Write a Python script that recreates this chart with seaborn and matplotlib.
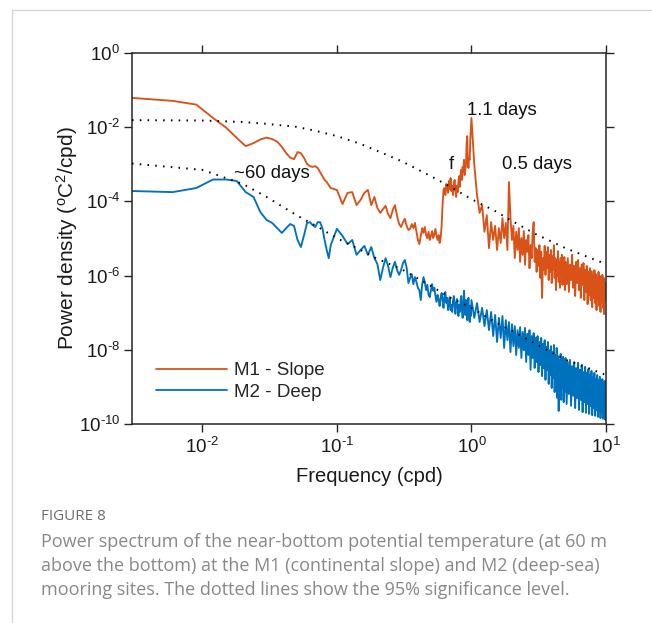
import numpy as np
import pandas as pd
import matplotlib
matplotlib.use("Agg")
import matplotlib.pyplot as plt
from matplotlib.lines import Line2D
from matplotlib.ticker import FixedLocator, FixedFormatter, NullLocator
import seaborn as sns

# ---------------- data (frequency in cpd, power as log10 of degC^2/cpd) ----------------
freq_low = [0.003, 0.006, 0.009, 0.012, 0.015, 0.018, 0.021, 0.024, 0.027, 0.030,
            0.033, 0.036, 0.039, 0.042, 0.045, 0.048, 0.051, 0.054, 0.057, 0.060,
            0.063, 0.066, 0.069, 0.072, 0.075, 0.078, 0.081, 0.084, 0.087, 0.090]
freq_mid = [0.10, 0.11, 0.12, 0.13, 0.14, 0.15, 0.16, 0.17, 0.18, 0.19,
            0.20, 0.21, 0.22, 0.23, 0.24, 0.25, 0.26, 0.27, 0.28, 0.29,
            0.30, 0.31, 0.32, 0.33, 0.34, 0.35, 0.36, 0.37, 0.38, 0.39,
            0.40, 0.41, 0.42, 0.43, 0.44, 0.45, 0.46, 0.47, 0.48, 0.49,
            0.50, 0.51, 0.52, 0.53, 0.54, 0.55, 0.56, 0.57, 0.58, 0.59,
            0.60, 0.61, 0.62, 0.63, 0.64, 0.65, 0.66, 0.67, 0.68, 0.69,
            0.70, 0.71, 0.72, 0.73, 0.74, 0.75, 0.76, 0.77, 0.78, 0.79,
            0.80, 0.81, 0.82, 0.83, 0.84, 0.85, 0.86, 0.87, 0.88, 0.89,
            0.90, 0.91, 0.92, 0.93, 0.94, 0.95, 0.96, 0.97, 0.98, 0.99]
freq_high = [1.00, 1.05, 1.10, 1.15, 1.20, 1.25, 1.30, 1.35, 1.40, 1.45,
             1.50, 1.55, 1.60, 1.65, 1.70, 1.75, 1.80, 1.85, 1.90, 1.95,
             2.00, 2.05, 2.10, 2.15, 2.20, 2.25, 2.30, 2.35, 2.40, 2.45,
             2.50, 2.55, 2.60, 2.65, 2.70, 2.75, 2.80, 2.85, 2.90, 2.95,
             3.00, 3.05, 3.10, 3.15, 3.20, 3.25, 3.30, 3.35, 3.40, 3.45,
             3.50, 3.55, 3.60, 3.65, 3.70, 3.75, 3.80, 3.85, 3.90, 3.95,
             4.00, 4.05, 4.10, 4.15, 4.20, 4.25, 4.30, 4.35, 4.40, 4.45,
             4.50, 4.55, 4.60, 4.65, 4.70, 4.75, 4.80, 4.85, 4.90, 4.95]
freq_top = [5.0, 5.1, 5.2, 5.3, 5.4, 5.5, 5.6, 5.7, 5.8, 5.9,
            6.0, 6.1, 6.2, 6.3, 6.4, 6.5, 6.6, 6.7, 6.8, 6.9,
            7.0, 7.1, 7.2, 7.3, 7.4, 7.5, 7.6, 7.7, 7.8, 7.9,
            8.0, 8.1, 8.2, 8.3, 8.4, 8.5, 8.6, 8.7, 8.8, 8.9,
            9.0, 9.1, 9.2, 9.3, 9.4, 9.5, 9.6, 9.7, 9.8, 9.9, 10.0]

# M1 - Slope (log10 power)
m1_low = [-1.21, -1.29, -1.39, -1.75, -2.01, -2.29, -2.51, -2.43, -2.33, -2.28,
          -2.32, -2.39, -2.53, -2.70, -2.82, -2.86, -2.67, -2.70, -2.83, -2.99,
          -3.05, -3.07, -3.05, -3.10, -3.21, -3.32, -3.42, -3.48, -3.56, -3.64]
m1_mid = [-3.69, -4.07, -3.77, -3.75, -4.10, -3.96, -3.77, -3.69, -4.10, -3.88,
          -4.18, -4.31, -4.21, -4.12, -4.34, -4.45, -4.23, -4.10, -4.39, -4.61,
          -4.69, -4.56, -4.47, -4.66, -4.77, -4.74, -4.61, -4.72, -4.58, -4.82,
          -5.04, -5.15, -4.93, -4.72, -4.85, -4.69, -4.91, -4.99, -4.82, -5.04,
          -4.93, -4.80, -4.99, -4.88, -4.74, -4.93, -5.04, -4.91, -5.12, -4.99,
          -4.66, -4.10, -3.69, -3.64, -3.83, -3.53, -3.61, -3.77, -3.45, -3.67,
          -3.37, -3.72, -3.58, -3.83, -3.50, -3.42, -3.69, -3.88, -3.58, -3.75,
          -3.45, -3.32, -3.61, -3.29, -3.15, -3.42, -3.07, -3.21, -2.88, -3.29,
          -3.13, -3.05, -2.48, -2.24, -2.94, -3.10, -2.83, -2.88, -2.34, -2.02]
m1_high = [-1.75, -3.02, -3.83, -4.31, -4.10, -4.82, -4.37, -5.26, -4.56, -5.04,
           -4.66, -5.31, -4.72, -5.12, -4.45, -4.99, -4.58, -5.31, -3.48, -4.45,
           -5.04, -4.66, -5.53, -4.82, -5.31, -4.72, -5.63, -4.99, -5.44, -4.80,
           -5.71, -5.04, -5.36, -4.91, -5.80, -5.18, -5.53, -4.85, -4.56, -5.63,
           -5.26, -5.90, -5.31, -5.74, -5.18, -6.06, -5.36, -6.60, -5.53, -5.85,
           -5.20, -5.98, -5.36, -5.80, -5.23, -6.12, -5.44, -5.90, -5.31, -6.20,
           -5.47, -5.85, -5.18, -6.06, -5.53, -6.39, -5.58, -6.01, -5.34, -6.17,
           -5.63, -6.33, -5.53, -5.96, -5.44, -6.25, -5.66, -6.06, -5.50, -6.39]
m1_top = [-5.63, -6.23, -5.53, -6.44, -5.71, -6.12, -5.44, -6.33, -5.74, -6.55,
          -5.63, -6.20, -5.58, -6.39, -5.80, -6.60, -5.71, -6.25, -5.66, -6.66,
          -5.85, -6.44, -5.74, -6.77, -5.90, -6.52, -5.80, -6.66, -5.88, -6.85,
          -5.98, -6.60, -5.85, -6.74, -5.96, -6.93, -6.06, -6.66, -5.90, -6.82,
          -6.01, -6.98, -6.12, -6.71, -5.98, -6.87, -6.06, -7.04, -6.17, -6.66, -6.25]

# M2 - Deep (log10 power)
m2_low = [-3.72, -3.75, -3.64, -3.41, -3.41, -3.45, -3.75, -3.88, -4.29, -4.50,
          -4.58, -4.72, -4.85, -4.72, -4.61, -4.66, -5.04, -5.23, -4.91, -4.58,
          -4.56, -4.64, -4.69, -4.56, -4.56, -4.72, -5.04, -5.31, -5.53, -5.18]
m2_mid = [-4.74, -4.93, -5.15, -5.04, -5.44, -5.31, -5.20, -5.44, -5.23, -5.53,
          -5.69, -6.12, -5.79, -5.53, -5.74, -6.04, -5.79, -5.63, -5.85, -5.98,
          -5.85, -5.66, -5.58, -5.79, -6.20, -6.06, -5.96, -6.23, -6.04, -6.17,
          -6.33, -6.39, -6.66, -6.25, -6.04, -6.17, -6.39, -6.25, -6.52, -6.58,
          -6.39, -6.23, -6.41, -6.33, -6.55, -6.71, -6.52, -6.66, -6.82, -6.60,
          -6.47, -6.66, -6.87, -6.55, -6.44, -6.74, -6.60, -6.93, -6.71, -6.58,
          -6.93, -6.79, -6.98, -6.66, -6.55, -6.82, -7.03, -6.74, -6.63, -6.87,
          -7.09, -6.79, -6.98, -6.66, -6.55, -6.93, -7.14, -6.74, -6.41, -6.82,
          -7.06, -6.66, -6.93, -7.20, -6.77, -6.60, -6.98, -7.25, -6.82, -7.09]
m2_high = [-6.66, -7.14, -6.74, -7.25, -6.87, -7.36, -6.93, -7.47, -6.98, -7.63,
           -7.06, -7.79, -7.14, -7.68, -7.09, -7.95, -7.20, -7.74, -7.25, -8.06,
           -7.31, -7.90, -7.36, -8.14, -7.47, -7.95, -7.39, -8.22, -7.52, -8.01,
           -7.41, -8.33, -7.57, -8.14, -7.47, -8.54, -7.63, -8.22, -7.55, -8.49,
           -7.68, -8.33, -7.63, -8.60, -7.79, -8.41, -7.68, -8.71, -7.84, -8.49,
           -7.74, -8.81, -7.92, -8.54, -7.79, -8.92, -8.01, -8.68, -7.90, -9.03,
           -8.06, -8.76, -7.87, -9.14, -8.14, -8.87, -7.95, -9.30, -8.17, -9.65,
           -8.27, -9.08, -8.11, -9.35, -8.33, -9.03, -8.19, -9.41, -8.38, -9.14]
m2_top = [-8.22, -9.46, -8.33, -9.19, -8.27, -9.51, -8.44, -9.24, -8.33, -9.57,
          -8.49, -9.30, -8.35, -9.62, -8.54, -9.35, -8.41, -9.68, -8.60, -9.41,
          -8.46, -9.70, -8.62, -9.46, -8.52, -9.73, -8.68, -9.51, -8.57, -9.76,
          -8.73, -9.57, -8.62, -9.78, -8.79, -9.62, -8.68, -9.81, -8.81, -9.65,
          -8.73, -9.84, -8.87, -9.68, -8.79, -9.86, -8.89, -9.70, -8.84, -9.89, -8.95]

# 95% significance levels (log10 power)
sig_freq = [0.003, 0.01, 0.02, 0.03, 0.05, 0.07, 0.1, 0.15, 0.2, 0.3,
            0.5, 0.7, 1.0, 1.5, 2.0, 3.0, 5.0, 7.0, 10.0]
sig_m1 = [-1.81, -1.82, -1.86, -1.91, -1.99, -2.10, -2.24, -2.45, -2.64, -2.91,
          -3.32, -3.61, -3.94, -4.26, -4.53, -4.88, -5.26, -5.47, -5.69]
sig_m2 = [-2.98, -3.15, -3.53, -3.88, -4.37, -4.66, -4.99, -5.31, -5.55, -5.82,
          -6.28, -6.60, -6.87, -7.25, -7.49, -7.84, -8.27, -8.46, -8.68]

series_names = ["M1 - Slope", "M2 - Deep"]
x_ticks = [0.01, 0.1, 1, 10]
x_labels = [r"$10^{\text{-2}}$", r"$10^{\text{-1}}$", r"$10^{0}$", r"$10^{1}$"]
y_ticks = [1e-10, 1e-8, 1e-6, 1e-4, 1e-2, 1]
y_labels = [r"$10^{\text{-10}}$", r"$10^{\text{-8}}$", r"$10^{\text{-6}}$",
            r"$10^{\text{-4}}$", r"$10^{\text{-2}}$", r"$10^{0}$"]
caption_title = "FIGURE 8"
caption_lines = [
    "Power spectrum of the near-bottom potential temperature (at 60 m",
    "above the bottom) at the M1 (continental slope) and M2 (deep-sea)",
    "mooring sites. The dotted lines show the 95% significance level.",
]

# ---------------- style ----------------
sns.set_theme(style="ticks")
plt.rcParams["font.family"] = ["Liberation Sans", "DejaVu Sans"]
plt.rcParams["mathtext.fontset"] = "custom"
plt.rcParams["mathtext.rm"] = "Liberation Sans"
plt.rcParams["mathtext.it"] = "Liberation Sans:italic"
plt.rcParams["mathtext.bf"] = "Liberation Sans:bold"
plt.rcParams["mathtext.sf"] = "Liberation Sans"

ORANGE = "#D95319"
BLUE = "#0072BD"
AXC = "#262626"

W, H = 652, 623
fig = plt.figure(figsize=(W / 100, H / 100), dpi=100)
fig.patch.set_facecolor("white")
ax = fig.add_axes([132 / W, 1 - 424 / H, 474 / W, 371 / H])

freq = freq_low + freq_mid + freq_high + freq_top
m1 = m1_low + m1_mid + m1_high + m1_top
m2 = m2_low + m2_mid + m2_high + m2_top
n = len(freq)
df = pd.DataFrame({
    "freq": freq + freq,
    "power": 10.0 ** np.array(m1 + m2),
    "site": [series_names[0]] * n + [series_names[1]] * n,
})

ax.set_xscale("log")
ax.set_yscale("log")
sns.lineplot(data=df, x="freq", y="power", hue="site", palette=[ORANGE, BLUE],
             estimator=None, sort=False, linewidth=1.35, ax=ax, legend=False)

for sig in (sig_m1, sig_m2):
    sns.lineplot(x=sig_freq, y=10.0 ** np.array(sig), color="black", linewidth=1.4,
                 linestyle=(0, (0.8, 3.2)), estimator=None, sort=False, ax=ax,
                 legend=False, zorder=5)

ax.set_xlim(0.003, 10)
ax.set_ylim(1e-10, 1)
ax.xaxis.set_major_locator(FixedLocator(x_ticks))
ax.xaxis.set_major_formatter(FixedFormatter(x_labels))
ax.yaxis.set_major_locator(FixedLocator(y_ticks))
ax.yaxis.set_major_formatter(FixedFormatter(y_labels))
ax.xaxis.set_minor_locator(NullLocator())
ax.yaxis.set_minor_locator(NullLocator())

for s in ax.spines.values():
    s.set_visible(True)
    s.set_color(AXC)
    s.set_linewidth(1.1)
ax.tick_params(axis="both", which="major", direction="out", length=5.5, width=1.0,
               color=AXC, labelcolor="#1a1a1a", labelsize=13.5,
               top=True, right=True, labeltop=False, labelright=False)
ax.tick_params(axis="x", pad=4)
ax.tick_params(axis="y", pad=3)

ax.set_xlabel("Frequency (cpd)", fontsize=14.5, color="#1a1a1a")
ax.set_ylabel(r"Power density ($^{\mathrm{o}}$C$^{2}$/cpd)", fontsize=15, color="#1a1a1a")
ax.xaxis.set_label_coords(0.5, -0.115)
ax.yaxis.set_label_coords(-0.11, 0.5)
ax.grid(False)

# annotations
ax.text(0.93, 0.029, "1.1 days", fontsize=13.3, color="#111111", ha="left", va="center")
ax.text(1.69, 9.6e-4, "0.5 days", fontsize=13.3, color="#111111", ha="left", va="center")
ax.text(0.71, 9.6e-4, "f", fontsize=13.3, color="#111111", ha="center", va="center")
ax.text(0.0171, 5.8e-4, "~60 days", fontsize=13.3, color="#111111", ha="left", va="center")

handles = [Line2D([], [], color=ORANGE, lw=1.3), Line2D([], [], color=BLUE, lw=1.3)]
ax.legend(handles, series_names, loc="center left", bbox_to_anchor=(0.05, 0.115),
          frameon=False, fontsize=13.5, handlelength=3.8, handletextpad=0.35,
          labelspacing=0.22, borderpad=0, borderaxespad=0)

# caption + frame
fig.add_artist(Line2D([11.5 / W, 1.0], [1 - 9.5 / H, 1 - 9.5 / H], color="#d6d6d6", lw=1.0))
fig.add_artist(Line2D([11.5 / W, 11.5 / W], [0.0, 1 - 9.5 / H], color="#d6d6d6", lw=1.0))
fig.text(41.5 / W, 1 - 517 / H, caption_title, fontsize=11, color="#6e6e6e",
         family=["Open Sans", "DejaVu Sans"], ha="left", va="center")
for i, line in enumerate(caption_lines):
    fig.text(41.5 / W, 1 - (542 + 24 * i) / H, line, fontsize=13, color="#888888",
             family=["Open Sans", "DejaVu Sans"], ha="left", va="center")

fig.savefig("out.png", dpi=100, facecolor="white")
